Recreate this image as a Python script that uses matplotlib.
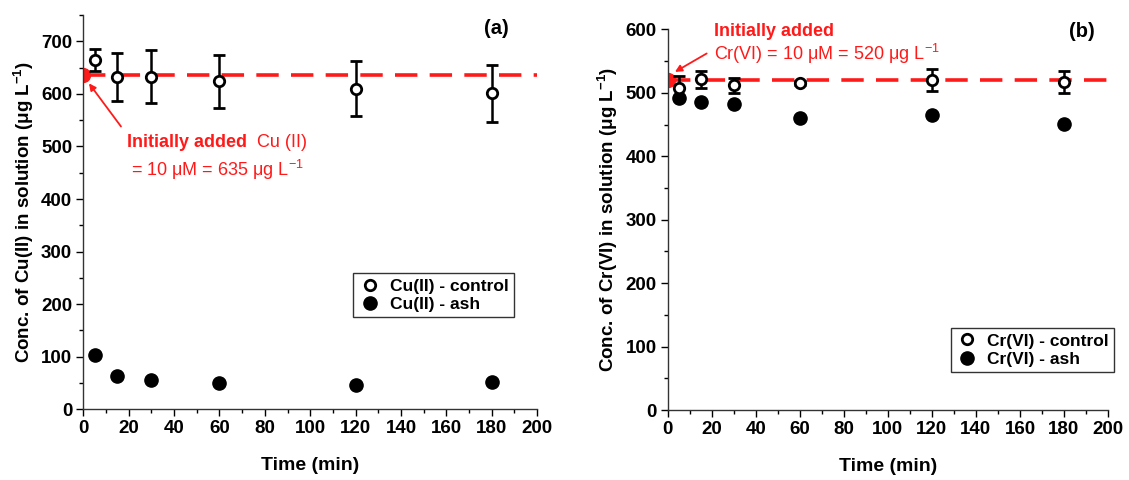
import matplotlib
matplotlib.use("Agg")
import matplotlib.pyplot as plt
from matplotlib.ticker import MultipleLocator

plt.rcParams['font.family'] = ['Liberation Sans', 'DejaVu Sans']
plt.rcParams['font.weight'] = 'bold'
plt.rcParams['mathtext.fontset'] = 'custom'
plt.rcParams['mathtext.rm'] = 'Liberation Sans'
plt.rcParams['mathtext.bf'] = 'Liberation Sans:bold'
plt.rcParams['mathtext.it'] = 'Liberation Sans:italic'
plt.rcParams['mathtext.default'] = 'regular'

time = [5, 15, 30, 60, 120, 180]

cu_control = [664, 632, 633, 624, 610, 601]
cu_control_err = [21, 46, 50, 50, 52, 54]
cu_ash = [104, 64, 56, 50, 47, 51]
cu_initial = 635

cr_control = [508, 521, 512, 516, 520, 517]
cr_control_err = [18, 13, 12, 3, 17, 18]
cr_ash = [492, 485, 482, 461, 465, 451]
cr_ash_err = [6, 5, 7, 3, 3, 4]
cr_initial = 520

RED = '#ff1a1a'
TICK_FS = 13.5
LAB_FS = 13.5

fig = plt.figure(figsize=(11.29, 4.8), dpi=100)
ax1 = fig.add_axes([0.0738, 0.1473, 0.4019, 0.8214])
ax2 = fig.add_axes([0.5914, 0.1458, 0.3900, 0.7930])

def style(ax, ymax, ymajor, ylabel):
    ax.set_xlim(0, 200)
    ax.set_ylim(0, ymax)
    for s in ['top', 'right']:
        ax.spines[s].set_visible(False)
    for s in ['left', 'bottom']:
        ax.spines[s].set_linewidth(1.0)
        ax.spines[s].set_color('#333333')
    ax.xaxis.set_major_locator(MultipleLocator(20))
    ax.xaxis.set_minor_locator(MultipleLocator(10))
    ax.yaxis.set_major_locator(MultipleLocator(ymajor))
    ax.yaxis.set_minor_locator(MultipleLocator(ymajor / 2))
    ax.tick_params(which='major', direction='out', length=5, width=1, labelsize=TICK_FS, pad=3)
    ax.tick_params(which='minor', direction='out', length=3, width=1)
    for lab in ax.get_xticklabels() + ax.get_yticklabels():
        lab.set_fontweight('bold')
    ax.set_xlabel('Time (min)', fontsize=14, fontweight='bold', labelpad=14)
    ax.set_ylabel(ylabel, fontsize=LAB_FS, fontweight='bold', labelpad=4)

def legend(ax, handles, labels, anchor):
    leg = ax.legend(handles, labels, loc='upper left', bbox_to_anchor=anchor, frameon=True,
                    fancybox=False, edgecolor='#333333', fontsize=12.5, handletextpad=0.5,
                    borderpad=0.3, labelspacing=0.2, handlelength=1.3, borderaxespad=0,
                    framealpha=1)
    leg.get_frame().set_linewidth(1.0)
    for t in leg.get_texts():
        t.set_fontweight('bold')
    return leg

# Panel (a)
style(ax1, 750, 100, r'Conc. of Cu(II) in solution (μg L$^{\mathbf{-1}}$)')
ax1.axhline(cu_initial, color=RED, lw=2.6, ls=(0, (6.2, 3.4)), zorder=1)
ax1.plot([0], [cu_initial], marker='o', ms=10, color=RED, clip_on=True, zorder=2)
eb1 = ax1.errorbar(time, cu_control, yerr=cu_control_err, fmt='o', ms=7.5, mfc='white',
                   mec='black', mew=2, ecolor='black', elinewidth=1.8, capsize=4, capthick=1.8,
                   zorder=3)
ash1, = ax1.plot(time, cu_ash, 'o', ms=9.5, color='black', zorder=3)
ax1.text(182, 724, '(a)', fontsize=14.5, fontweight='bold', ha='center', va='center')
ax1.annotate('', xy=(2.5, 620), xytext=(16.6, 538),
             arrowprops=dict(arrowstyle='-|>', color=RED, lw=1.3, mutation_scale=10,
                             shrinkA=0, shrinkB=0))
t1 = ax1.text(19.3, 507, 'Initially added', color=RED, fontsize=13, fontweight='bold',
              ha='left', va='center')
ax1.annotate('  Cu (II)', xycoords=t1, xy=(1, 0.5), va='center', ha='left',
             color=RED, fontsize=13, fontweight='normal')
ax1.text(21, 456, r'= 10 μM = 635 μg L$^{-1}$', color=RED, fontsize=13,
         fontweight='normal', ha='left', va='center')
legend(ax1, [eb1[0], ash1], ['Cu(II) - control', 'Cu(II) - ash'], (0.595, 0.345))

# Panel (b)
style(ax2, 600, 100, r'Conc. of Cr(VI) in solution (μg L$^{\mathbf{-1}}$)')
ax2.axhline(cr_initial, color=RED, lw=2.6, ls=(0, (6.2, 3.4)), zorder=1)
ax2.plot([0], [cr_initial], marker='o', ms=10, color=RED, clip_on=True, zorder=2)
eb_ash = ax2.errorbar(time, cr_ash, yerr=cr_ash_err, fmt='o', ms=9.5, color='black',
                      ecolor='black', elinewidth=1.5, capsize=3, capthick=1.5, zorder=3)
eb2 = ax2.errorbar(time, cr_control, yerr=cr_control_err, fmt='o', ms=7.5, mfc='white',
                   mec='black', mew=2, ecolor='black', elinewidth=1.8, capsize=4, capthick=1.8,
                   zorder=4)
ax2.text(188, 596, '(b)', fontsize=14.5, fontweight='bold', ha='center', va='center',
         clip_on=False)
ax2.annotate('', xy=(3.3, 533), xytext=(17.7, 562),
             arrowprops=dict(arrowstyle='-|>', color=RED, lw=1.3, mutation_scale=10,
                             shrinkA=0, shrinkB=0))
ax2.text(21, 597, 'Initially added', color=RED, fontsize=13, fontweight='bold',
         ha='left', va='center', clip_on=False)
ax2.text(21, 562, r'Cr(VI) = 10 μM = 520 μg L$^{-1}$', color=RED, fontsize=13,
         fontweight='normal', ha='left', va='center')
legend(ax2, [eb2[0], eb_ash[0]], ['Cr(VI) - control', 'Cr(VI) - ash'], (0.643, 0.215))

fig.savefig('out.png', dpi=100)
